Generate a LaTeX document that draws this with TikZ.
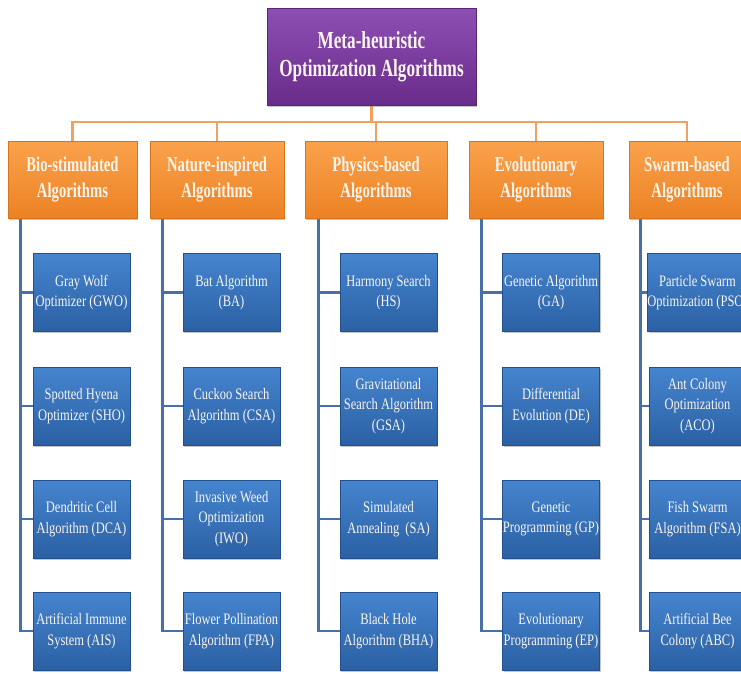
\documentclass[tikz,border=0pt]{standalone}
\usepackage{fontspec}
\setmainfont{Liberation Serif}
\newfontfamily\headfont[FakeStretch=0.70]{Liberation Serif}
\newfontfamily\leaffont[FakeStretch=0.78]{Liberation Serif}
\usetikzlibrary{calc,shadows,backgrounds}

\definecolor{purpTop}{HTML}{8E4FB4}
\definecolor{purpBot}{HTML}{682C8A}
\definecolor{purpEdge}{HTML}{5A2578}
\definecolor{orTop}{HTML}{FAA24C}
\definecolor{orBot}{HTML}{EC8224}
\definecolor{orEdge}{HTML}{D9731C}
\definecolor{blTop}{HTML}{4585CF}
\definecolor{blBot}{HTML}{2B60A4}
\definecolor{blEdge}{HTML}{22508C}
\definecolor{orLine}{HTML}{F2A05C}
\definecolor{blLine}{HTML}{4870A8}
\definecolor{textwhite}{HTML}{FBF5EC}

\begin{document}
\begin{tikzpicture}[x=1pt,y=-1pt,
  box/.style={rectangle, inner sep=0pt, align=center, text=textwhite,
    drop shadow={opacity=0.45, shadow xshift=1.2pt, shadow yshift=-1.8pt}},
  topbox/.style={box, minimum width=209pt, minimum height=97pt,
    top color=purpTop, bottom color=purpBot, draw=purpEdge, line width=0.6pt,
    font=\headfont\bfseries\fontsize{24.5}{28}\selectfont},
  catbox/.style={box, minimum height=77pt,
    top color=orTop, bottom color=orBot, draw=orEdge, line width=0.6pt,
    font=\headfont\bfseries\fontsize{21}{26}\selectfont},
  algbox/.style={box, minimum width=97pt, minimum height=78pt,
    top color=blTop, bottom color=blBot, draw=blEdge, line width=0.6pt,
    font=\leaffont\fontsize{16}{20.5}\selectfont},
  orline/.style={draw=orLine, line width=2.6pt, line join=miter},
  blline/.style={draw=blLine, line width=2.6pt, line join=miter},
]
\useasboundingbox (0,0) rectangle (741,673);
\clip (0,0) rectangle (741,673);

% root
\node[topbox] (root) at (371.5,56.5) {Meta-heuristic\\Optimization Algorithms};

% categories
\node[catbox, minimum width=129pt] (bio) at (72.5,179.5) {Bio-stimulated\\Algorithms};
\node[catbox, minimum width=134pt] (nat) at (217,179.5) {Nature-inspired\\Algorithms};
\node[catbox, minimum width=142pt] (phy) at (376,179.5) {Physics-based\\Algorithms};
\node[catbox, minimum width=134pt] (evo) at (536,179.5) {Evolutionary\\Algorithms};
\node[catbox, minimum width=116pt] (swa) at (687,179.5) {Swarm-based\\Algorithms};

% algorithms, column by column
\node[algbox] (b1) at (81.5,292.5) {Gray Wolf\\Optimizer (GWO)};
\node[algbox] (b2) at (81.5,406) {Spotted Hyena\\Optimizer (SHO)};
\node[algbox] (b3) at (81.5,519) {Dendritic Cell\\Algorithm (DCA)};
\node[algbox] (b4) at (81.5,631) {Artificial Immune\\System (AIS)};

\node[algbox] (n1) at (231.5,292.5) {Bat Algorithm\\(BA)};
\node[algbox] (n2) at (231.5,406) {Cuckoo Search\\Algorithm (CSA)};
\node[algbox] (n3) at (231.5,519) {Invasive Weed\\Optimization\\(IWO)};
\node[algbox] (n4) at (231.5,631) {Flower Pollination\\Algorithm (FPA)};

\node[algbox] (p1) at (388.5,292.5) {Harmony Search\\(HS)};
\node[algbox] (p2) at (388.5,406) {Gravitational\\Search Algorithm\\(GSA)};
\node[algbox] (p3) at (388.5,519) {Simulated\\Annealing~~(SA)};
\node[algbox] (p4) at (388.5,631) {Black Hole\\Algorithm (BHA)};

\node[algbox] (e1) at (551,292.5) {Genetic Algorithm\\(GA)};
\node[algbox] (e2) at (551,406) {Differential\\Evolution (DE)};
\node[algbox] (e3) at (551,519) {Genetic\\Programming (GP)};
\node[algbox] (e4) at (551,631) {Evolutionary\\Programming (EP)};

\node[algbox] (s1) at (697.5,292.5) {Particle Swarm\\Optimization (PSO)};
\node[algbox] (s2) at (697.5,406) {Ant Colony\\Optimization\\(ACO)};
\node[algbox] (s3) at (697.5,519) {Fish Swarm\\Algorithm (FSA)};
\node[algbox] (s4) at (697.5,631) {Artificial Bee\\Colony (ABC)};

\begin{scope}[on background layer]
  \fill[white] (0,0) rectangle (741,673);

  % orange bus from the root to the five categories
  \coordinate (bus) at (0,122);
  \draw[orline] (root.south) -- (root.south |- bus);
  \draw[orline] (bio.north) -- (bio.north |- bus) -- (swa.north |- bus) -- (swa.north);
  \foreach \c in {nat,phy,evo}
    \draw[orline] (\c.north |- bus) -- (\c.north);

  % blue spines with branches to each algorithm
  \foreach \c/\k/\off in {bio/b/13, nat/n/13, phy/p/14, evo/e/13, swa/s/12}{
    \coordinate (v) at ($(\c.south west)+(\off,0)$);
    \draw[blline] (v) |- (\k4.west);
    \foreach \r in {1,2,3}
      \draw[blline] (v |- \k\r.west) -- (\k\r.west);
  }
\end{scope}
\end{tikzpicture}
\end{document}
